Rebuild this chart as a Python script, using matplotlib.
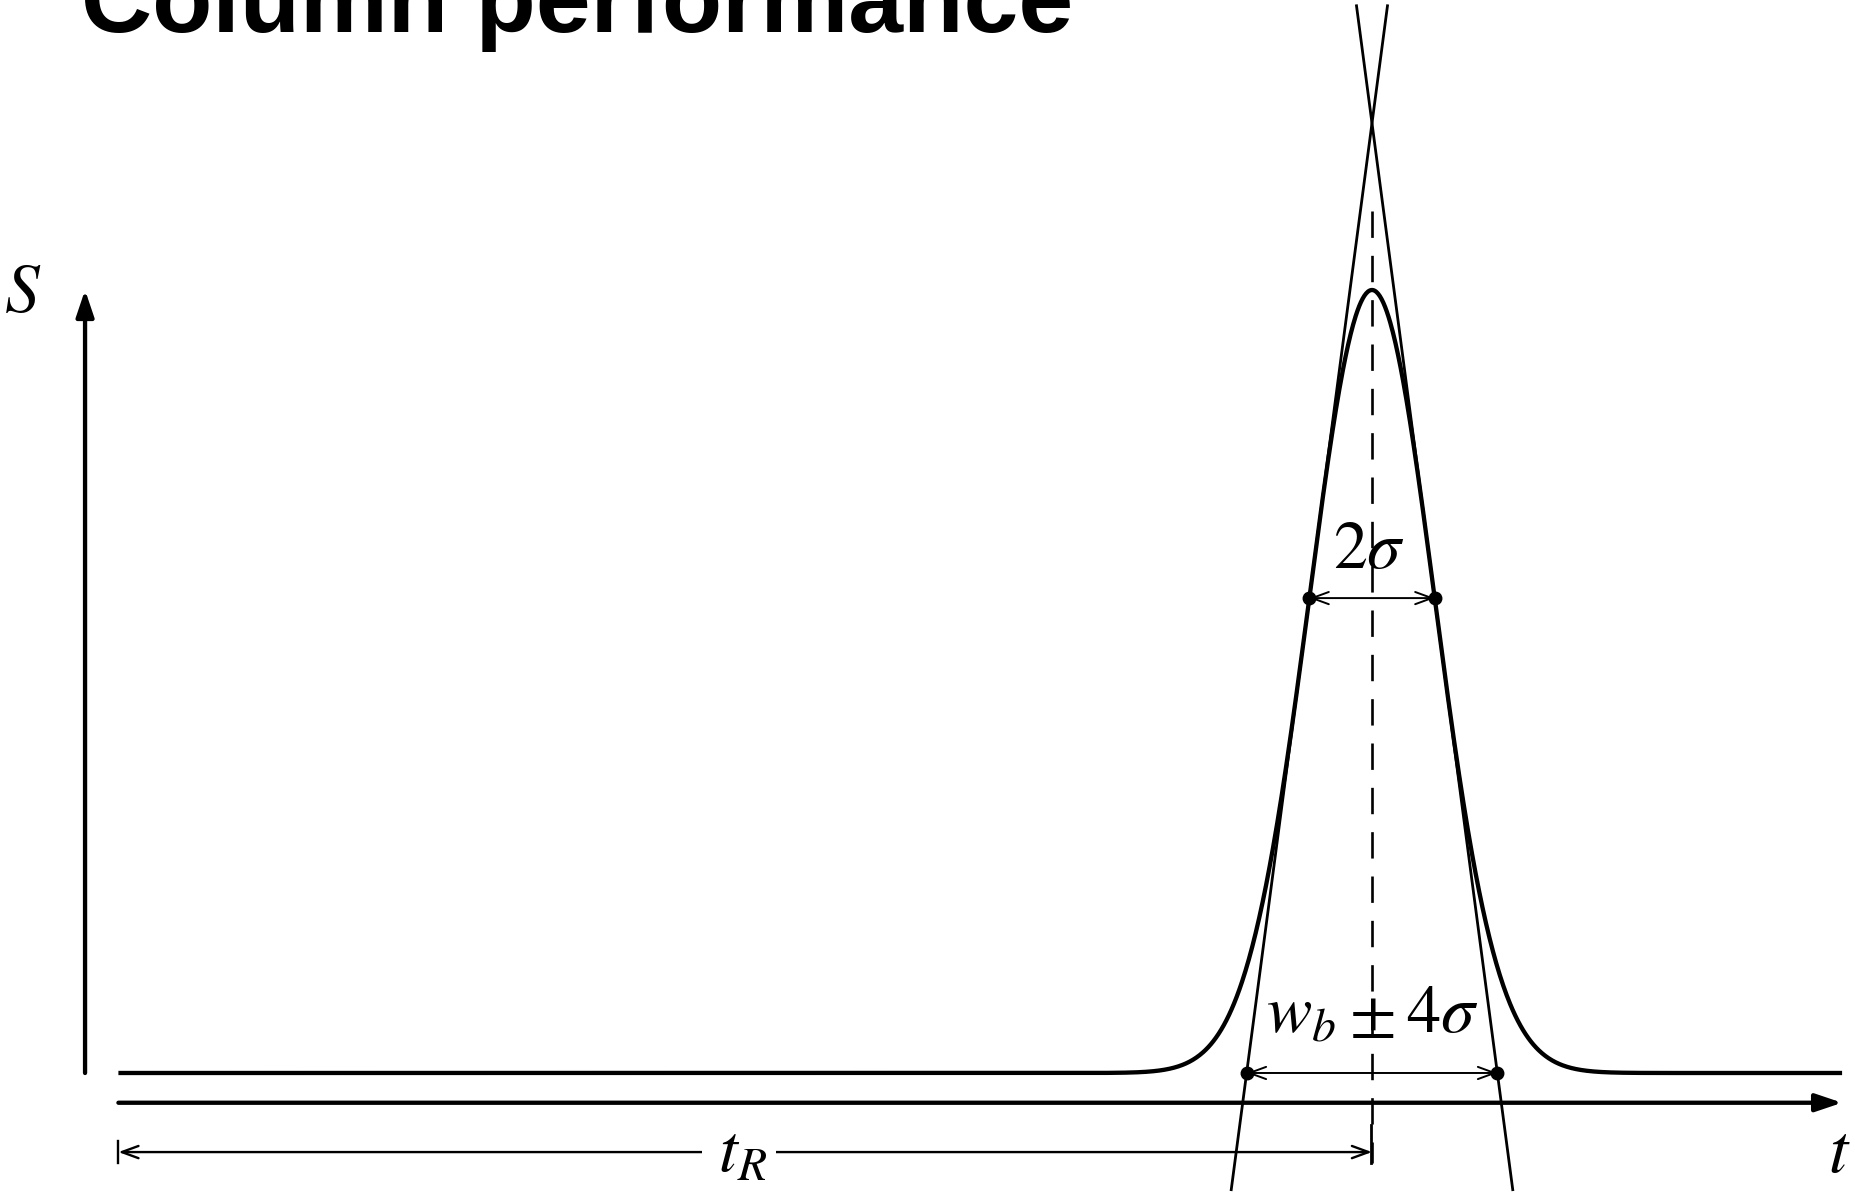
import numpy as np
import matplotlib
matplotlib.use("Agg")
from matplotlib import pyplot as plt

# peak model (time in arbitrary units, signal normalised to peak height)
t_start = 0.0
t_end = 13.75
t_R = 10.0
sigma = 0.5
height = 1.0

# annotation levels
axis_y = -0.038
tR_y = -0.101
axis_x = -0.266
tangent_top = 1.363
tangent_bottom = -0.149
dash_top = 1.101
dash_bottom = -0.115

title = "Column performance"

plt.rcParams["mathtext.fontset"] = "stix"

fig = plt.figure(figsize=(18.56, 11.92), dpi=100)
ax = fig.add_axes([0, 0, 1, 1])
ax.set_xlim(-0.9445, 13.861)
ax.set_ylim(-0.152, 1.3704)
ax.axis("off")

# gaussian signal
t = np.linspace(t_start, t_end, 2000)
s = height * np.exp(-0.5 * ((t - t_R) / sigma) ** 2)
ax.plot(t, s, color="k", lw=3.1, solid_capstyle="butt", zorder=3)

# inflection tangents
h_inf = height * np.exp(-0.5)
ys = np.array([tangent_bottom, tangent_top])
left_t = t_R - 2 * sigma + sigma * ys / h_inf
right_t = t_R + 2 * sigma - sigma * ys / h_inf
ax.plot(left_t, ys, color="k", lw=2.0, zorder=2)
ax.plot(right_t, ys, color="k", lw=2.0, zorder=2)

# centre line (drawn top-down so a dash starts at the top)
ax.plot([t_R, t_R], [dash_top, dash_bottom], color="k", lw=1.9,
        dashes=(10, 6.8), zorder=2)

# axes arrows
axis_style = "-|>,head_length=0.8,head_width=0.27"
ax.annotate("", xy=(axis_x, height), xytext=(axis_x, 0),
            arrowprops=dict(arrowstyle=axis_style, lw=3.1, color="k",
                            shrinkA=0, shrinkB=0, mutation_scale=20))
ax.annotate("", xy=(t_end, axis_y), xytext=(t_start, axis_y),
            arrowprops=dict(arrowstyle=axis_style, lw=3.1, color="k",
                            shrinkA=0, shrinkB=0, mutation_scale=20))

# width markers
dim_style = "<->,head_length=0.6,head_width=0.22"
for y0, x0, x1 in [(h_inf, t_R - sigma, t_R + sigma),
                   (0.0, t_R - 2 * sigma, t_R + 2 * sigma)]:
    ax.annotate("", xy=(x1, y0), xytext=(x0, y0),
                arrowprops=dict(arrowstyle=dim_style, lw=1.4, color="k",
                                shrinkA=0, shrinkB=0, mutation_scale=20),
                zorder=4)
    ax.plot([x0, x1], [y0, y0], "o", color="k", ms=9, zorder=5)

# retention time marker
ax.annotate("", xy=(t_R, tR_y), xytext=(t_start, tR_y),
            arrowprops=dict(arrowstyle=dim_style, lw=1.7, color="k",
                            shrinkA=0, shrinkB=0, mutation_scale=20))
ax.plot([t_start, t_start], [tR_y - 0.014, tR_y + 0.014], color="k", lw=1.7)
ax.plot([t_R - 0.01, t_R - 0.01], [tR_y - 0.014, tR_y + 0.035], color="k",
        lw=2.0)

# labels
ax.text(axis_x - 0.495, 0.972, r"$S$", fontsize=50, ha="center", va="baseline")
ax.text(t_end - 0.02, -0.126, r"$t$", fontsize=50, ha="center", va="baseline")
ax.text(t_R - 0.02, 0.645, r"$2\sigma$", fontsize=49, ha="center",
        va="baseline", zorder=6)
ax.text(t_R, 0.052, r"$w_b\:\pm\:4\sigma$", fontsize=49, ha="center",
        va="baseline", zorder=6)
ax.text(t_R / 2 - 0.05, tR_y, r"$\,t_R\,$", fontsize=49, ha="center",
        va="center",
        bbox=dict(boxstyle="square,pad=0.12", fc="white", ec="none"), zorder=6)

fig.text(0.0436, 1 - 32 / 1192, title, fontsize=71, fontweight="bold",
         family=["Liberation Sans", "DejaVu Sans"], ha="left", va="baseline")

fig.savefig("out.png", dpi=100, facecolor="white")
